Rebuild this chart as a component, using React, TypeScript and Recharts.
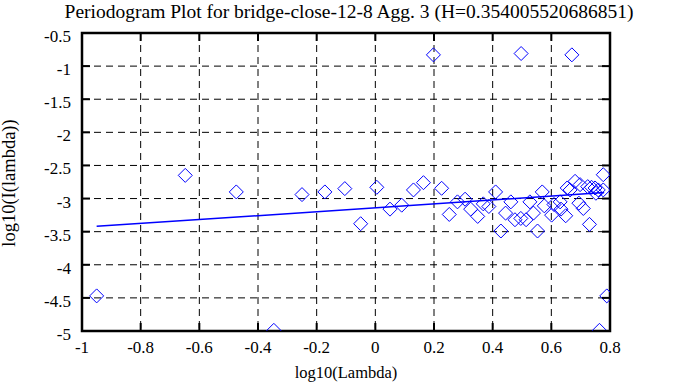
import { ScatterChart, Scatter, XAxis, YAxis, CartesianGrid, ReferenceLine, ReferenceArea } from 'recharts'

const title = 'Periodogram Plot for bridge-close-12-8 Agg. 3 (H=0.354005520686851)'

// log10(lambda) and log10(I(lambda))
const lambdaLog = [
  -0.95, -0.648, -0.474, -0.346, -0.25, -0.172, -0.104, -0.05, 0.005, 0.05,
  0.09, 0.13, 0.164, 0.198, 0.226, 0.252, 0.28, 0.306, 0.325, 0.349,
  0.368, 0.387, 0.41, 0.428, 0.444, 0.462, 0.476, 0.497, 0.496, 0.514,
  0.527, 0.539, 0.553, 0.569, 0.576, 0.601, 0.609, 0.63, 0.633, 0.649,
  0.654, 0.664, 0.67, 0.681, 0.694, 0.698, 0.709, 0.724, 0.73, 0.737,
  0.749, 0.752, 0.76, 0.764, 0.777, 0.777, 0.789,
]
const periodLog = [
  -4.47, -2.65, -2.9, -4.99, -2.94, -2.9, -2.85, -3.38, -2.83, -3.16,
  -3.1, -2.87, -2.76, -0.83, -2.845, -3.24, -3.05, -3.01, -3.16, -3.27,
  -3.08, -3.12, -2.9, -3.49, -3.22, -3.05, -3.32, -0.81, -3.3, -3.32,
  -3.05, -3.22, -3.49, -2.9, -3.11, -3.25, -3.09, -3.05, -3.16, -3.26,
  -2.84, -2.87, -0.83, -2.74, -3.07, -2.79, -3.15, -2.82, -3.39, -2.83,
  -2.84, -2.92, -2.87, -4.99, -2.64, -2.87, -4.47,
]

// least squares fit line end points
const fitLambda = [-0.95, 0.78]
const fitPeriod = [-3.42, -2.91]

const xTicks = [-1, -0.8, -0.6, -0.4, -0.2, 0, 0.2, 0.4, 0.6, 0.8]
const yTicks = [-5, -4.5, -4, -3.5, -3, -2.5, -2, -1.5, -1, -0.5]

const points = lambdaLog.map((x, i) => ({ x, y: periodLog[i] }))

const W = 688
const H = 387
const box = { left: 82, right: 610, top: 33, bottom: 331 }
const Y_AXIS_W = 60
const X_AXIS_H = 40
const font = '"Liberation Serif", "Times New Roman", serif'
const blue = '#0000ff'
const TICK = 8

const txt = (size: number) => ({ fontFamily: font, fontSize: size, fill: '#000' })

function Diamond(props: any) {
  const { cx, cy } = props
  if (cx == null || cy == null) return null
  const r = 7
  return (
    <polygon
      points={`${cx},${cy - r} ${cx + r},${cy} ${cx},${cy + r} ${cx - r},${cy}`}
      fill="none"
      stroke={blue}
      strokeWidth={1}
    />
  )
}

function XTick(props: any) {
  const { x, payload } = props
  return (
    <g>
      <line x1={x} x2={x} y1={box.bottom} y2={box.bottom - TICK} stroke="#000" strokeWidth={2} />
      <line x1={x} x2={x} y1={box.top} y2={box.top + TICK} stroke="#000" strokeWidth={2} />
      <text x={x} y={box.bottom + 22} textAnchor="middle" style={txt(17)}>
        {String(payload.value)}
      </text>
    </g>
  )
}

function YTick(props: any) {
  const { y, payload } = props
  return (
    <g>
      <line x1={box.left} x2={box.left + TICK} y1={y} y2={y} stroke="#000" strokeWidth={2} />
      <line x1={box.right} x2={box.right - TICK} y1={y} y2={y} stroke="#000" strokeWidth={2} />
      <text x={box.left - 11} y={y + 9} textAnchor="end" style={txt(17)}>
        {String(payload.value)}
      </text>
    </g>
  )
}

function Captions() {
  return (
    <g>
      <text x={349} y={18} textAnchor="middle" style={txt(19.5)}>{title}</text>
      <text x={346} y={378} textAnchor="middle" style={txt(16.5)}>log10(Lambda)</text>
      <text x={15} y={183} textAnchor="middle" style={txt(18.5)} transform="rotate(-90 15 183)">
        log10(I(lambda))
      </text>
    </g>
  )
}

export default function App() {
  return (
    <div style={{ position: 'absolute', left: 0, top: 0, width: W, height: H, background: '#fff' }}>
      <ScatterChart
        width={W}
        height={H}
        margin={{
          top: box.top,
          right: W - box.right,
          bottom: H - box.bottom - X_AXIS_H,
          left: box.left - Y_AXIS_W,
        }}
      >
        <CartesianGrid stroke="#000" strokeDasharray="7 5" strokeWidth={1} />
        <XAxis
          type="number"
          dataKey="x"
          domain={[-1, 0.8]}
          ticks={xTicks}
          interval={0}
          height={X_AXIS_H}
          axisLine={false}
          tickLine={false}
          tick={<XTick />}
          allowDataOverflow
          label={{ content: () => <Captions /> }}
        />
        <YAxis
          type="number"
          dataKey="y"
          domain={[-5, -0.5]}
          ticks={yTicks}
          interval={0}
          width={Y_AXIS_W}
          axisLine={false}
          tickLine={false}
          tick={<YTick />}
          allowDataOverflow
        />
        <Scatter data={points} shape={<Diamond />} isAnimationActive={false} />
        <ReferenceLine
          segment={[
            { x: fitLambda[0], y: fitPeriod[0] },
            { x: fitLambda[1], y: fitPeriod[1] },
          ]}
          stroke={blue}
          strokeWidth={1.5}
        />
        <ReferenceArea
          x1={-1}
          x2={0.8}
          y1={-5}
          y2={-0.5}
          fill="none"
          fillOpacity={0}
          stroke="#000"
          strokeWidth={2.5}
        />
      </ScatterChart>
    </div>
  )
}
